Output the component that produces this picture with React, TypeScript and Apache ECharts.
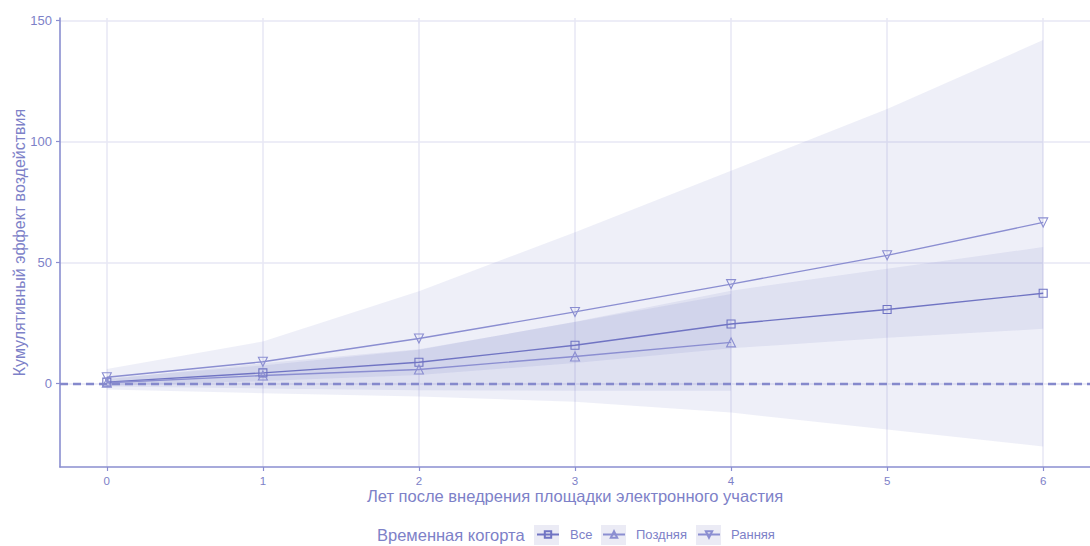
import React, { useEffect, useRef } from "react";
import * as echarts from "echarts";

// Years since the e-participation platform was introduced
const years = [0, 1, 2, 3, 4, 5, 6];
const lateYears = [0, 1, 2, 3, 4];

// Cohort "Все" (all): estimate and confidence band
const allEffect = [0.6, 4.4, 8.8, 15.8, 24.6, 30.6, 37.3];
const allLower = [-1.0, 1.0, 3.5, 8.5, 14.6, 18.9, 22.6];
const allUpper = [2.2, 7.5, 14.0, 25.5, 38.4, 47.4, 56.4];

// Cohort "Поздняя" (late)
const lateEffect = [0.3, 3.3, 5.8, 11.2, 17.0];
const lateLower = [-1.2, -2.0, -2.8, -3.0, -3.0];
const lateUpper = [1.8, 8.4, 14.2, 25.4, 37.0];

// Cohort "Ранняя" (early)
const earlyEffect = [2.6, 9.0, 18.6, 29.6, 41.1, 53.0, 66.6];
const earlyLower = [-2.5, -4.0, -5.4, -7.5, -12.0, -19.0, -26.0];
const earlyUpper = [6.0, 17.4, 38.2, 62.5, 88.0, 113.5, 142.0];

const yTicks = [0, 50, 100, 150];

const FONT = "'Liberation Sans', Arial, sans-serif";
const TEXT = "#7d81c8";
const AXIS = "#8a8ed0";
const GRID = "#e7e7f4";
const BAND = "rgba(118,122,200,0.12)";

const band = (xs: number[], lo: number[], hi: number[]) => ({
  type: "custom",
  coordinateSystem: "cartesian2d",
  silent: true,
  z: 1,
  data: xs.map((x, i) => [x, lo[i], hi[i]]),
  encode: { x: 0, y: [1, 2] },
  renderItem: (params: any, api: any) => {
    if (params.dataIndex !== 0) return null;
    const top = xs.map((x, i) => api.coord([x, hi[i]]));
    const bottom = xs.map((x, i) => api.coord([x, lo[i]])).reverse();
    return {
      type: "polygon",
      shape: { points: top.concat(bottom) },
      style: { fill: BAND },
    };
  },
});

const line = (
  name: string,
  xs: number[],
  ys: number[],
  color: string,
  symbol: string,
  size: number,
  rotate: number
) => ({
  type: "line",
  name,
  data: xs.map((x, i) => [x, ys[i]]),
  symbol,
  symbolSize: size,
  symbolRotate: rotate,
  showSymbol: true,
  z: 4,
  emphasis: { disabled: true },
  itemStyle: { color: "rgba(255,255,255,0)", borderColor: color, borderWidth: 1.1 },
  lineStyle: { color, width: 1.4 },
});

export default function App() {
  const ref = useRef<HTMLDivElement>(null);

  useEffect(() => {
    if (!ref.current) return;
    const chart = echarts.init(ref.current, undefined, { renderer: "svg" });

    const legendItem = (name: string, left: number) => ({
      data: [name],
      left,
      top: 528,
      padding: 0,
      itemWidth: 22,
      itemHeight: 8,
      selectedMode: false,
      textStyle: { color: TEXT, fontSize: 13, fontFamily: FONT, padding: [0, 0, 0, 6] },
    });

    chart.setOption({
      animation: false,
      grid: { left: 60, right: 0, top: 18, bottom: 79, containLabel: false, outerBoundsMode: "none" },
      xAxis: {
        type: "value",
        min: -0.3,
        max: 6.3,
        name: "Лет после внедрения площадки электронного участия",
        nameLocation: "middle",
        nameGap: 20,
        nameMoveOverlap: false,
        nameTextStyle: { color: TEXT, fontSize: 16.5, fontFamily: FONT },
        axisLine: { show: true, onZero: false, lineStyle: { color: AXIS, width: 1.6 } },
        axisTick: { show: true, length: 4, customValues: years, lineStyle: { color: AXIS, width: 1.2 } },
        axisLabel: { customValues: years, color: TEXT, fontSize: 11.5, margin: 8, fontFamily: FONT },
        splitLine: { show: true, lineStyle: { color: GRID, width: 1.5 } },
      },
      yAxis: {
        type: "value",
        min: -34.5,
        max: 151.1,
        name: "Кумулятивный эффект воздействия",
        nameLocation: "middle",
        nameGap: 33,
        nameMoveOverlap: false,
        nameTextStyle: { color: TEXT, fontSize: 16, fontFamily: FONT },
        axisLine: { show: true, onZero: false, lineStyle: { color: AXIS, width: 1.6 } },
        axisTick: { show: true, length: 4, customValues: yTicks, lineStyle: { color: AXIS, width: 1.2 } },
        axisLabel: { customValues: yTicks, color: TEXT, fontSize: 13, margin: 8, fontFamily: FONT },
        splitLine: { show: true, lineStyle: { color: GRID, width: 1.5 } },
      },
      legend: [
        legendItem("Все", 536),
        legendItem("Поздняя", 602),
        legendItem("Ранняя", 697),
      ],
      graphic: [
        {
          type: "text",
          left: 377,
          top: 526,
          z: 10,
          style: { text: "Временная когорта", fill: TEXT, fontSize: 16.5, fontFamily: FONT },
        },
        { type: "rect", shape: { x: 534, y: 525, width: 25, height: 20 }, style: { fill: "#ebebf5" }, z: -1 },
        { type: "rect", shape: { x: 601, y: 525, width: 25, height: 20 }, style: { fill: "#ebebf5" }, z: -1 },
        { type: "rect", shape: { x: 696, y: 525, width: 25, height: 20 }, style: { fill: "#ebebf5" }, z: -1 },
      ],
      series: [
        band(years, earlyLower, earlyUpper),
        band(years, allLower, allUpper),
        band(lateYears, lateLower, lateUpper),
        {
          type: "line",
          data: [],
          silent: true,
          markLine: {
            silent: true,
            symbol: "none",
            label: { show: false },
            emphasis: { disabled: true },
            lineStyle: { type: [8, 5], color: "#8589cc", width: 2.4 },
            data: [{ yAxis: 0 }],
          },
          z: 3,
        },
        line("Все", years, allEffect, "#7074c3", "rect", 8, 0),
        line("Поздняя", lateYears, lateEffect, "#8b8ed1", "triangle", 9, 0),
        line("Ранняя", years, earlyEffect, "#8b8ed1", "triangle", 9, 180),
      ],
    });

    return () => chart.dispose();
  }, []);

  return (
    <div
      ref={ref}
      style={{ position: "fixed", left: 0, top: 0, width: 1090, height: 546, background: "#fff" }}
    />
  );
}
